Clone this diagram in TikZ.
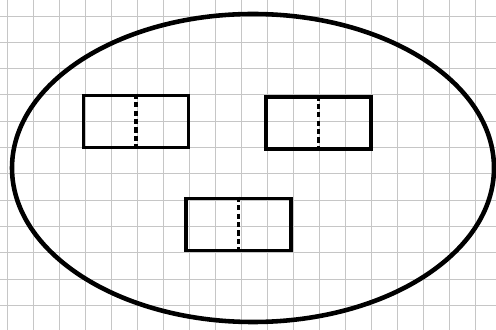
\documentclass[tikz,border=0pt]{standalone}
\usetikzlibrary{positioning}
\tikzset{
  cell/.style={draw,line width=2pt,minimum width=2.1cm,minimum height=1.04cm,inner sep=0pt},
  split/.style={line width=2pt,dash pattern=on 3pt off 1.8pt}
}
\begin{document}
\begin{tikzpicture}[x=0.02cm,y=-0.02cm]
\useasboundingbox (0,0) rectangle (496,330);
% squared paper
\begin{scope}
\clip (0,0) rectangle (496,330);
\foreach \gx in {0,...,18} \draw[gray!45,line width=0.5pt] (7+26*\gx,0) -- (7+26*\gx,330);
\foreach \gy in {0,...,11} \draw[gray!45,line width=0.5pt] (0,16+26.3*\gy) -- (496,16+26.3*\gy);
\end{scope}
% outline
\draw[line width=2.6pt] (253,168) ellipse [x radius=241,y radius=154];
% the three boxes
\node[cell] (boxA) at (136,121.5) {};
\node[cell] (boxB) at (318.5,123) {};
\node[cell] (boxC) at (238.5,224.5) {};
\foreach \b in {boxA,boxB,boxC} \draw[split] (\b.north) -- (\b.south);
\end{tikzpicture}
\end{document}
